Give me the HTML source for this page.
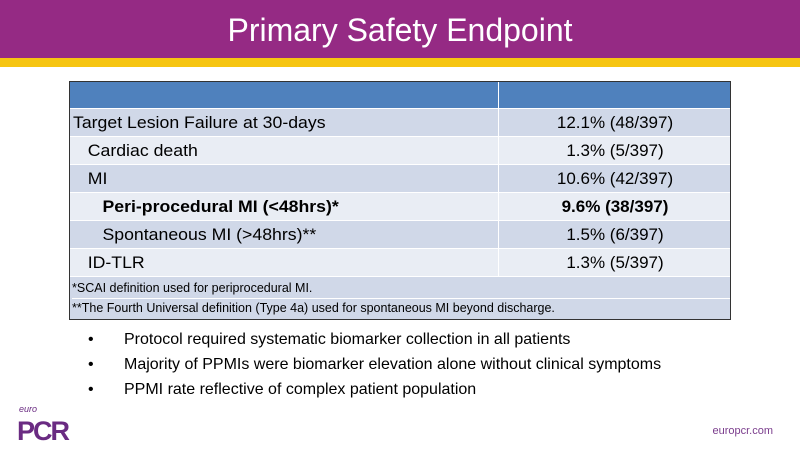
<!DOCTYPE html>
<html><head><meta charset="utf-8"><style>
*{margin:0;padding:0;box-sizing:border-box}
body{width:800px;height:450px;background:#fff;position:relative;overflow:hidden;font-family:"Liberation Sans",sans-serif;color:#000}
.top{position:absolute;left:0;top:0;width:800px;height:58px;background:#952a84}
.yel{position:absolute;left:0;top:58px;width:800px;height:9px;background:#f6c512}
.title{position:absolute;left:0;top:12px;width:800px;text-align:center;color:#fff;font-size:32px}
.tbl{position:absolute;left:69px;top:81px;width:662px;border:1px solid #333;background:#fff}
.r{position:relative;height:28px;border-bottom:1px solid #fff;font-size:17px;line-height:28px}
.r .a{position:absolute;left:3px;top:0;white-space:nowrap;transform-origin:left;transform:scaleX(1.04)}
.r .b{position:absolute;left:428px;width:233px;text-align:center;top:0;border-left:1px solid #fff;height:100%}
.d{background:#d0d8e8}.l{background:#e9edf4}
.h{background:#4f81bd;height:27px}
.fn{background:#d0d8e8;height:42px;font-size:12.5px;padding-left:2px;line-height:19px;padding-top:2px;white-space:nowrap}
.fn div{border-bottom:1px solid #fff}
ul{position:absolute;left:88px;top:327px;list-style:none;font-size:16px}
ul li{height:25px;line-height:25px;white-space:nowrap}
ul li span{display:inline-block;width:36px}
.logo{position:absolute;left:17px;top:416px;color:#6a2b82;font-weight:bold;font-size:27px;letter-spacing:-2px}
.euro{position:absolute;left:19px;top:404px;color:#6a2b82;font-size:9px;font-style:italic}
.url{position:absolute;right:27px;top:425px;color:#7a3c8c;font-size:11px}
</style></head><body>
<div class="top"></div><div class="yel"></div>
<div class="title">Primary Safety Endpoint</div>
<div class="tbl">
<div class="r h"><div class="b" style="border-left:1px solid #fff"></div></div>
<div class="r d"><span class="a">Target Lesion Failure at 30-days</span><div class="b">12.1% (48/397)</div></div>
<div class="r l"><span class="a">&nbsp;&nbsp;&nbsp;Cardiac death</span><div class="b">1.3% (5/397)</div></div>
<div class="r d"><span class="a">&nbsp;&nbsp;&nbsp;MI</span><div class="b">10.6% (42/397)</div></div>
<div class="r l" style="font-weight:bold"><span class="a">&nbsp;&nbsp;&nbsp;&nbsp;&nbsp;&nbsp;Peri-procedural MI (&lt;48hrs)*</span><div class="b">9.6% (38/397)</div></div>
<div class="r d"><span class="a">&nbsp;&nbsp;&nbsp;&nbsp;&nbsp;&nbsp;Spontaneous MI (&gt;48hrs)**</span><div class="b">1.5% (6/397)</div></div>
<div class="r l"><span class="a">&nbsp;&nbsp;&nbsp;ID-TLR</span><div class="b">1.3% (5/397)</div></div>
<div class="fn"><div>*SCAI definition used for periprocedural MI.</div>**The Fourth Universal definition (Type 4a) used for spontaneous MI beyond discharge.</div>
</div>
<ul>
<li><span>•</span>Protocol required systematic biomarker collection in all patients</li>
<li><span>•</span>Majority of PPMIs were biomarker elevation alone without clinical symptoms</li>
<li><span>•</span>PPMI rate reflective of complex patient population</li>
</ul>
<div class="euro">euro</div>
<div class="logo">PCR</div>
<div class="url">europcr.com</div>
</body></html>
